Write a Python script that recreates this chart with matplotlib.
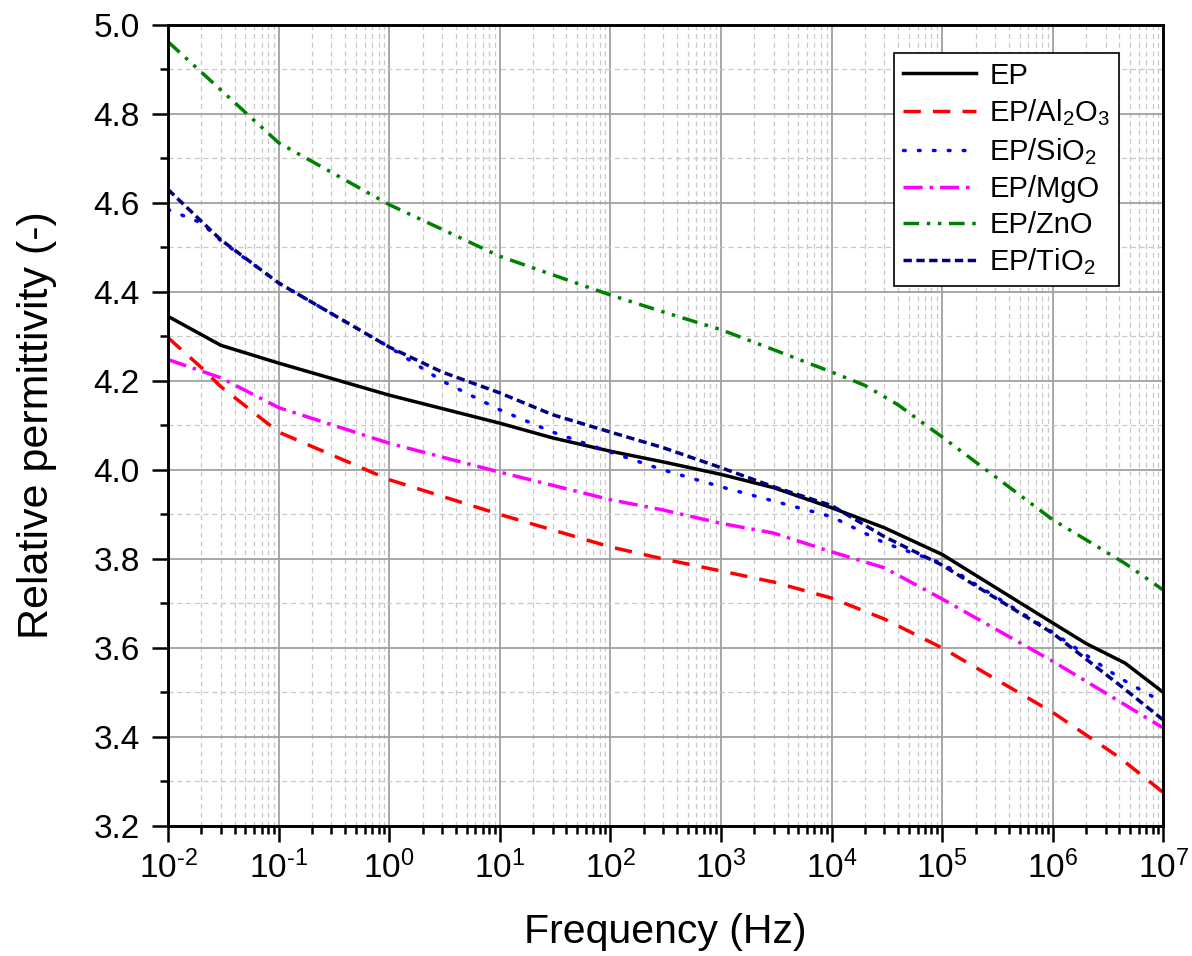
import numpy as np
import matplotlib.pyplot as plt
from matplotlib.ticker import LogLocator, MultipleLocator, FuncFormatter

plt.rcParams['font.family'] = ['Liberation Sans', 'DejaVu Sans']
plt.rcParams['mathtext.fontset'] = 'custom'
plt.rcParams['mathtext.rm'] = 'Liberation Sans'
plt.rcParams['mathtext.it'] = 'Liberation Sans:italic'
plt.rcParams['axes.unicode_minus'] = False

# Frequency points (Hz) and permittivity
f_ep = [1e-2, 3e-2, 1e-1, 1e0, 1e1, 3e1, 1e2, 3e2, 1e3, 3e3, 1e4, 3e4, 1e5, 1e6, 2e6, 4.5e6, 1e7]
ep = [4.345, 4.28, 4.24, 4.168, 4.105, 4.072, 4.042, 4.018, 3.99, 3.96, 3.915, 3.87, 3.81, 3.656, 3.61, 3.566, 3.50]

f_al = [1e-2, 2e-2, 3e-2, 1e-1, 1e0, 1e1, 1e2, 3e2, 1e3, 3e3, 1e4, 3e4, 1e5, 1e6, 4e6, 1e7]
al2o3 = [4.297, 4.23, 4.187, 4.085, 3.978, 3.90, 3.827, 3.80, 3.773, 3.748, 3.712, 3.665, 3.60, 3.455, 3.354, 3.275]

f_si = [1e-2, 2e-2, 3e-2, 1e-1, 1e0, 3e0, 1e1, 3e1, 1e2, 3e2, 1e3, 3e3, 1e4, 3e4, 1e5, 1e6, 4e6, 1e7]
sio2 = [4.585, 4.555, 4.515, 4.42, 4.276, 4.20, 4.135, 4.085, 4.04, 4.0, 3.962, 3.93, 3.895, 3.836, 3.79, 3.635, 3.533, 3.477]

f_mg = [1e-2, 3e-2, 1e-1, 1e0, 1e1, 1e2, 3e2, 1e3, 3e3, 1e4, 3e4, 1e5, 1e6, 4e6, 1e7]
mgo = [4.248, 4.207, 4.14, 4.06, 3.995, 3.933, 3.91, 3.88, 3.858, 3.816, 3.78, 3.71, 3.57, 3.48, 3.42]

f_zn = [1e-2, 1e-1, 1e0, 1e1, 1e2, 3e2, 1e3, 3e3, 1e4, 2e4, 4e4, 1e5, 1e6, 2e6, 4.5e6, 1e7]
zno = [4.962, 4.735, 4.596, 4.48, 4.393, 4.355, 4.315, 4.27, 4.22, 4.19, 4.146, 4.074, 3.888, 3.843, 3.79, 3.73]

f_ti = [1e-2, 3e-2, 1e-1, 1e0, 3e0, 1e1, 3e1, 1e2, 3e2, 1e3, 3e3, 1e4, 3e4, 1e5, 1e6, 4e6, 1e7]
tio2 = [4.63, 4.517, 4.42, 4.276, 4.22, 4.173, 4.124, 4.085, 4.05, 4.005, 3.962, 3.92, 3.85, 3.786, 3.633, 3.517, 3.438]


def dec_label(x, pos):
    e = int(round(np.log10(x)))
    if e < 0:
        return r'$\mathregular{10^{\text{-}%d}}$' % (-e)
    return r'$\mathregular{10^{%d}}$' % e


fig = plt.figure(figsize=(11.92, 9.56), dpi=100)
ax = fig.add_axes([0.141, 0.136, 0.835, 0.838])

lw = 2.5
ax.plot(f_ep, ep, color='black', lw=lw, label='EP')
ax.plot(f_al, al2o3, color='#ff0000', lw=lw, ls=(0, (5, 3.5)), label=r'EP/Al$_\mathregular{2}$O$_\mathregular{3}$')
ax.plot(f_si, sio2, color='#0000ff', lw=lw, ls=(0, (0.5, 3.8)), dash_capstyle='round', label=r'EP/SiO$_\mathregular{2}$')
ax.plot(f_mg, mgo, color='#ff00ff', lw=lw, ls=(0, (5.5, 2, 1, 2)), label='EP/MgO')
ax.plot(f_zn, zno, color='#008000', lw=lw, ls=(0, (4.5, 2.2, 1, 2.2, 1, 2.2)), label='EP/ZnO')
ax.plot(f_ti, tio2, color='#000080', lw=lw, ls=(0, (2.4, 1.3)), label=r'EP/TiO$_\mathregular{2}$')

ax.set_xscale('log')
ax.set_xlim(1e-2, 1e7)
ax.set_ylim(3.2, 5.0)
ax.xaxis.set_major_locator(LogLocator(base=10, numticks=20))
ax.xaxis.set_minor_locator(LogLocator(base=10, subs=np.arange(2, 10), numticks=20))
ax.xaxis.set_major_formatter(FuncFormatter(dec_label))
ax.yaxis.set_major_locator(MultipleLocator(0.2))
ax.yaxis.set_minor_locator(MultipleLocator(0.1))
ax.yaxis.set_major_formatter(plt.FormatStrFormatter('%.1f'))

ax.grid(which='major', color='#a0a0a0', lw=1.3, ls='-')
ax.grid(which='minor', color='#c8c8c8', lw=0.9, ls=(0, (4, 3)))
ax.set_axisbelow(True)

for s in ax.spines.values():
    s.set_linewidth(2.1)
ax.tick_params(which='major', direction='out', length=11.5, width=1.8, labelsize=24)
ax.tick_params(axis='y', which='major', pad=9)
ax.tick_params(axis='x', which='major', pad=6)
ax.tick_params(which='minor', direction='out', length=6, width=1.8)
ax.tick_params(top=False, right=False)

ax.set_xlabel('Frequency (Hz)', fontsize=29.5, labelpad=20)
ax.set_ylabel('Relative permittivity (-)', fontsize=31, labelpad=26)

leg = ax.legend(loc='upper right', bbox_to_anchor=(0.955, 0.965), borderaxespad=0,
                fontsize=21, frameon=True, fancybox=False, edgecolor='black', framealpha=1,
                handlelength=2.5, labelspacing=0.27, borderpad=0.3, handletextpad=0.45)
leg.get_frame().set_linewidth(1.2)

plt.savefig('out.png', dpi=100)
plt.close()
